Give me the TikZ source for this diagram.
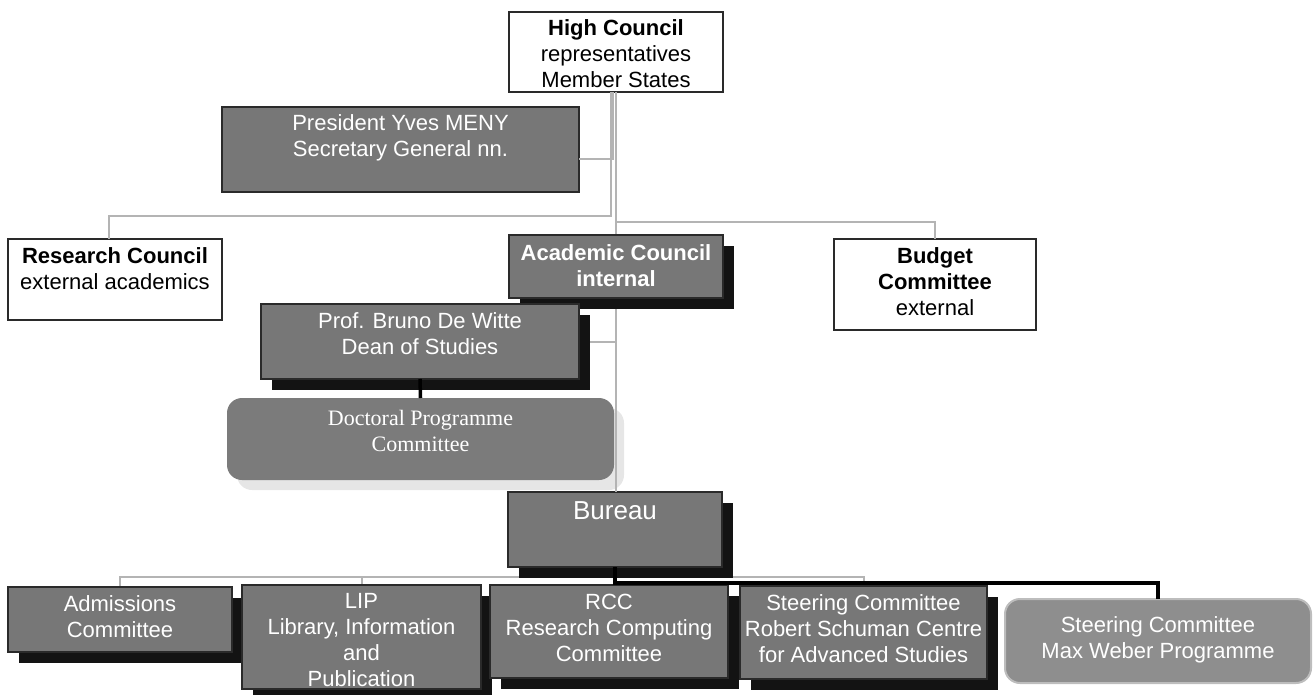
\documentclass[tikz,border=0pt]{standalone}
\usepackage{fontspec}
\setmainfont{Liberation Sans}
\newfontfamily\docserif{Liberation Serif}
\usetikzlibrary{shadows,backgrounds}
\definecolor{boxgrey}{HTML}{777777}
\definecolor{docgrey}{HTML}{7B7B7B}
\definecolor{mwgrey}{HTML}{8E8E8E}
\definecolor{mwline}{HTML}{BDBDBD}
\definecolor{shadowc}{HTML}{131313}
\definecolor{edgec}{HTML}{2A2A2A}
\definecolor{linegrey}{HTML}{B4B4B4}
\definecolor{docshadow}{HTML}{E6E6E6}
\newcommand\bt[4]{\parbox[c][#2pt][t]{#1pt}{\centering\rule{0pt}{#3pt}#4\par}}
\begin{document}
\begin{tikzpicture}[x=1pt,y=-1pt,
  every node/.style={inner sep=0pt, outer sep=0pt, anchor=north west, font=\fontsize{22}{26}\selectfont},
  wbox/.style={draw=edgec, line width=1.5pt, fill=white, text=black},
  gbox/.style={draw=edgec, line width=1.5pt, fill=boxgrey, text=white},
  shbox/.style={gbox, drop shadow={shadow xshift=11pt, shadow yshift=-11pt, fill=shadowc, opacity=1}},
  docbox/.style={fill=docgrey, text=white, rounded corners=15pt,
    drop shadow={shadow xshift=10pt, shadow yshift=-10pt, fill=docshadow, opacity=1}},
  mwbox/.style={draw=mwline, line width=2pt, fill=mwgrey, text=white, rounded corners=15pt},
  gl/.style={draw=linegrey, line width=2pt},
  bl/.style={draw=black, line width=3.5pt}]
\useasboundingbox (0,0) rectangle (1313,695);

% top level boxes
\node[wbox] (hc) at (509,12) {\bt{214}{80}{24}{\textbf{High Council}\\representatives\\Member States}};
\node[gbox] (pres) at (222,107) {\bt{357}{85}{24}{President Yves MENY\\Secretary General nn.}};
\node[wbox] (rc) at (8,239) {\bt{214}{81}{24}{\textbf{Research Council}\\external academics}};
\node[wbox] (bud) at (834,239) {\bt{202}{91}{24}{\textbf{Budget}\\\textbf{Committee}\\external}};
\node[docbox] (doc) at (227,398) {\bt{387}{82}{27}{\docserif Doctoral Programme\\Committee}};
\node[shbox] (bur) at (508,492) {\bt{214}{75}{27}{\fontsize{26}{30}\selectfont Bureau}};

% grey connectors (upper part)
\draw[gl] ([xshift=-3pt]hc.south) |- ([yshift=-10pt]pres.east);
\draw[gl] ([xshift=-5pt]hc.south) -- ++(0,124) -| ([xshift=-6pt]rc.north);
\draw[gl] (hc.south) -- (hc.south |- bur.north);
\draw[gl] (hc.south) ++(0,130) -| (bud.north);

% remaining boxes
\node[shbox] (ac) at (509,235) {\bt{214}{63}{25}{\textbf{Academic Council}\\\textbf{internal}}};
\node[shbox] (prof) at (261,304) {\bt{318}{75}{24}{Prof. Bruno De Witte\\Dean of Studies}};
\node[mwbox] (mw) at (1005,599) {\bt{306}{84}{33}{Steering Committee\\Max Weber Programme}};
\node[shbox] (adm) at (8,587) {\bt{224}{65}{24}{Admissions\\Committee}};
\node[shbox] (lip) at (242,585) {\bt{239}{104}{23}{LIP\\Library, Information\\and\\Publication}};
\node[shbox] (rcc) at (490,585) {\bt{238}{93}{24}{RCC\\Research Computing\\Committee}};
\node[shbox] (rsc) at (740,586) {\bt{247}{93}{24}{Steering Committee\\Robert Schuman Centre\\for Advanced Studies}};

% grey connectors (behind boxes)
\begin{scope}[on background layer]
\coordinate (fork) at ([yshift=-10pt]bur.south);
\draw[gl] (prof.east) -- (prof.east -| hc.south);
\draw[gl] (bur.south) -- (fork) -| (adm.north);
\draw[gl] (fork) -| (lip.north);
\draw[gl] (fork) -| (rsc.north);
\end{scope}

% black connectors
\draw[bl] (prof.south) -- (doc.north);
\draw[bl] (bur.south) -- (bur.south |- rcc.north);
\draw[bl] (bur.south) ++(0,16) -| (mw.north);
\end{tikzpicture}
\end{document}
